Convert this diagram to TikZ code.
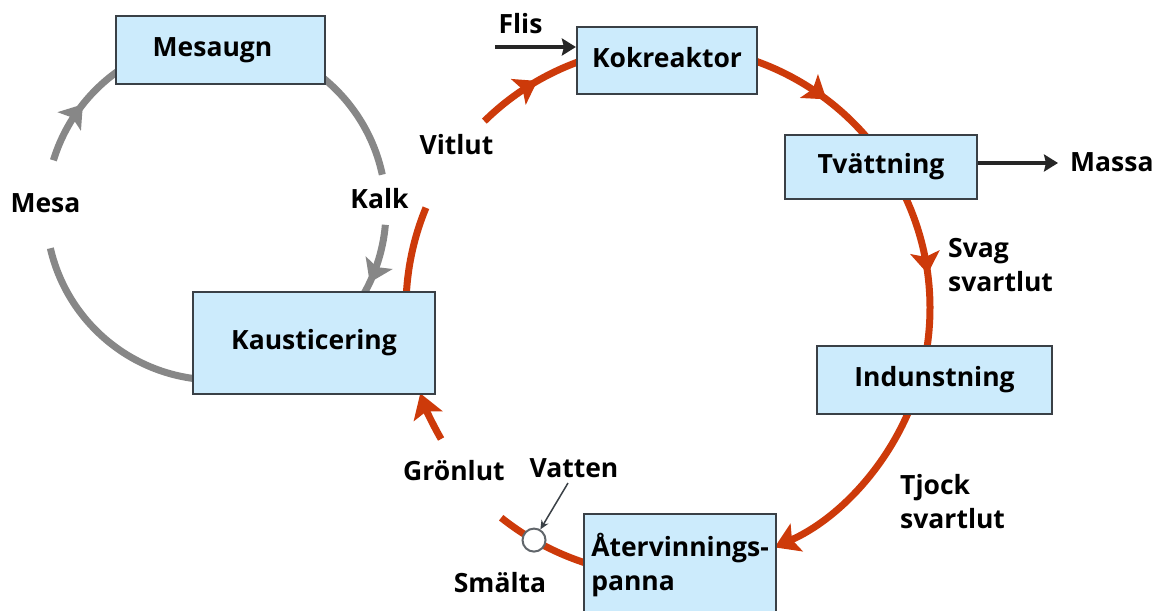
\documentclass[tikz,border=0pt]{standalone}
\usepackage{fontspec}
\setmainfont{Open Sans}
\usetikzlibrary{arrows.meta,decorations.markings}
\definecolor{boxfill}{RGB}{204,235,252}
\definecolor{boxline}{RGB}{58,64,70}
\definecolor{redc}{RGB}{205,58,10}
\definecolor{grayc}{RGB}{135,135,135}
\begin{document}
\begin{tikzpicture}[x=1pt,y=1pt,
  every node/.style={font=\fontsize{26.5}{34}\selectfont\bfseries},
  lab/.style={anchor=base,inner sep=0pt},
  boxbase/.style={draw=boxline,line width=2.2pt,fill=boxfill,inner sep=0pt},
  box/.style={boxbase,text height=19pt,text depth=6pt},
  grayline/.style={color=grayc,line width=7pt},
  redline/.style={color=redc,line width=7pt},
  midarr/.style={postaction={decorate,decoration={markings,mark=at position #1 with {\arrow{Stealth[length=22pt,width=30pt,inset=5pt,line width=0pt]}}}}},
  endarr/.style={-{Stealth[length=24pt,width=30pt,inset=5pt]}},
  blackarr/.style={draw=black!85,line width=4.5pt,-{Stealth[length=14pt,width=17pt,inset=2pt]}},
  thinarr/.style={draw=boxline,line width=1.5pt,-{Stealth[length=9pt,width=8pt]}},
  valvest/.style={circle,draw=boxline!80,fill=white,line width=2pt,minimum size=23pt,inner sep=0pt}
]
\useasboundingbox[fill=white] (0,0) rectangle (1155,-610);

\coordinate (gc) at (216,-210);
\coordinate (rc) at (668,-308);

% gray lime cycle
\draw[grayline] ([shift={(264:170)}]gc) arc[start angle=264,end angle=193,radius=170];
\draw[grayline,midarr=0.55] ([shift={(163:170)}]gc) arc[start angle=163,end angle=124,radius=170];
\draw[grayline] ([shift={(53:170)}]gc) arc[start angle=53,end angle=12,radius=170];
\draw[grayline,midarr=0.75] ([shift={(-5:170)}]gc) arc[start angle=-5,end angle=-32,radius=170];

% red liquor cycle
\draw[redline,midarr=0.55] ([shift={(134.5:262)}]rc) arc[start angle=134.5,end angle=108,radius=262];
\draw[redline,midarr=0.6] ([shift={(72:262)}]rc) arc[start angle=72,end angle=40,radius=262];
\draw[redline,midarr=0.5] ([shift={(27:262)}]rc) arc[start angle=27,end angle=-12,radius=262];
\draw[redline,endarr] ([shift={(-21:262)}]rc) arc[start angle=-21,end angle=-66,radius=262];
\draw[redline] ([shift={(253:268)}]rc) arc[start angle=253,end angle=231.5,radius=268];
\draw[redline,endarr] ([shift={(210:262)}]rc) arc[start angle=210,end angle=199,radius=262];
\draw[redline] ([shift={(180:262)}]rc) arc[start angle=180,end angle=157.5,radius=262];

% boxes
\node[box,minimum width=209pt,minimum height=68pt] (mesaugn) at (220.5,-50) {Mesaugn\hspace*{16pt}};
\node[box,minimum width=180pt,minimum height=67pt] (kok) at (667,-60.5) {Kokreaktor};
\node[box,minimum width=192pt,minimum height=64pt] (tvatt) at (881,-167) {Tvättning};
\node[box,minimum width=235pt,minimum height=68pt] (indun) at (934.5,-380) {Indunstning};
\node[box,minimum width=242pt,minimum height=102pt] (kaus) at (314,-343) {Kausticering};
\node[boxbase,anchor=north west,minimum width=192pt,minimum height=101pt,align=left] (aterv) at (583,-513) {Återvinnings-\\panna};

% valve
\node[valvest] (valve) at ([shift={(240:268)}]rc) {};

% labels
\node[lab] (mesa) at (45.5,-212) {Mesa};
\node[lab] (kalk) at (379.5,-208) {Kalk};
\node[lab] (vitlut) at (456.5,-154) {Vitlut};
\node[lab] (flis) at (520.5,-34) {Flis};
\node[lab,anchor=base west] (massa) at (1070,-171) {Massa};
\node[lab,anchor=base west,align=left] (svag) at (948,-291) {Svag\\svartlut};
\node[lab,anchor=base west,align=left] (tjock) at (900,-528) {Tjock\\svartlut};
\node[lab] (gronlut) at (454,-480) {Grönlut};
\node[lab] (vatten) at (574,-477) {Vatten};
\node[lab] (smalta) at (500,-592) {Smälta};

% black feed arrows
\coordinate (flistail) at (495,-47);
\draw[blackarr] (flistail) -- (flistail -| kok.west);
\coordinate (massatip) at (1058,-163);
\draw[blackarr] (massatip -| tvatt.east) -- (massatip);
\coordinate (vattentail) at (568,-483);
\draw[thinarr] (vattentail) -- (valve);
\end{tikzpicture}
\end{document}
